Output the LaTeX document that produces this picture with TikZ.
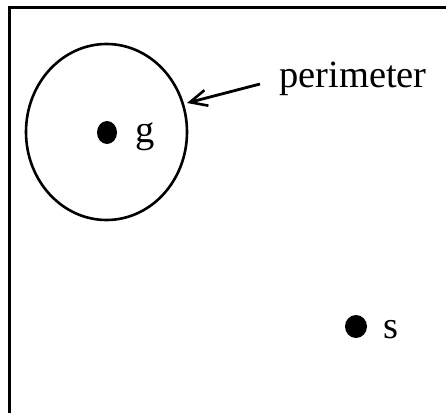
\documentclass[tikz,border=0pt]{standalone}
\usepackage{fontspec}
\setmainfont{Liberation Serif}
\usetikzlibrary{arrows.meta}
\begin{document}
\begin{tikzpicture}[x=1pt,y=-1pt,
  lbl/.style={anchor=base west,inner sep=0pt,font=\fontsize{38.5}{40}\selectfont},
  ]
\useasboundingbox (0,0) rectangle (446,412);
\draw[line width=3.4pt] (9.5,430) -- (9.5,7.3) -- (460,7.3);
\draw[line width=2.6pt] (106.5,132) ellipse [x radius=80.5, y radius=88];
\coordinate (tip) at (187,103);
\fill (107,132.5) ellipse [x radius=10, y radius=11.5];
\coordinate (gdot) at (107,132.5);
\node[lbl] (g) at (135,142) {g};
\fill (356,326.5) ellipse [x radius=11, y radius=11.5];
\coordinate (sdot) at (356,326.5);
\node[lbl] (s) at (383,338) {s};
\node[lbl] (per) at (279,87) {perimeter};
\coordinate (tail) at (260,84);
\draw[line width=2.8pt,-{Straight Barb[length=17pt,width=16pt,line width=2.6pt]}] (tail) -- (tip);
\end{tikzpicture}
\end{document}
